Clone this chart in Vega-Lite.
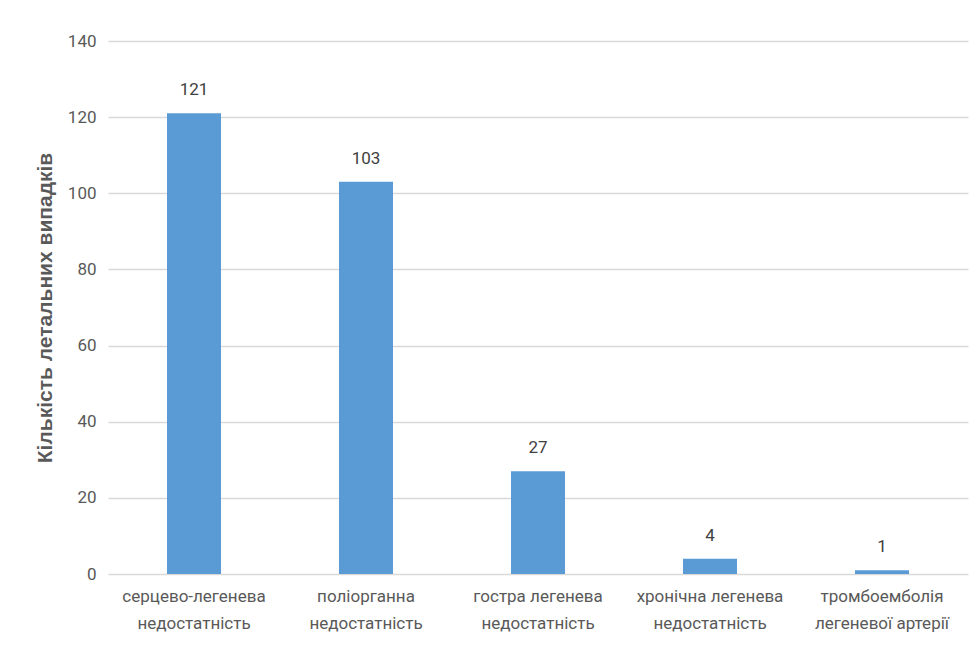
{
  "$schema": "https://vega.github.io/schema/vega-lite/v6.json",
  "width": 860,
  "height": 533,
  "autosize": {"type": "none"},
  "padding": {"left": 108, "top": 41, "right": 8, "bottom": 83},
  "background": "white",
  "config": {
    "view": {"stroke": null},
    "font": "Roboto"
  },
  "data": {
    "values": [
      {"cause": "серцево-легенева\nнедостатність", "count": 121},
      {"cause": "поліорганна\nнедостатність", "count": 103},
      {"cause": "гостра легенева\nнедостатність", "count": 27},
      {"cause": "хронічна легенева\nнедостатність", "count": 4},
      {"cause": "тромбоемболія\nлегеневої артерії", "count": 1}
    ]
  },
  "encoding": {
    "x": {
      "field": "cause",
      "type": "nominal",
      "sort": null,
      "scale": {"paddingInner": 0, "paddingOuter": 0},
      "axis": {
        "title": null,
        "labelAngle": 0,
        "labelExpr": "split(datum.value, '\\n')",
        "labelFontSize": 17,
        "labelColor": "#595959",
        "labelLineHeight": 27,
        "labelPadding": 14,
        "ticks": false,
        "domain": false,
        "labelFont": "Roboto"
      }
    },
    "y": {
      "field": "count",
      "type": "quantitative",
      "scale": {"domain": [0, 140]},
      "axis": {
        "values": [0, 20, 40, 60, 80, 100, 120, 140],
        "title": "Кількість летальних випадків",
        "titleFont": "Liberation Sans",
        "titleFontSize": 21,
        "titleFontWeight": "bold",
        "titleColor": "#595959",
        "titlePadding": 12,
        "labelFontSize": 17,
        "labelColor": "#595959",
        "labelPadding": 12,
        "labelFont": "Roboto",
        "ticks": false,
        "domain": false,
        "gridColor": "#d9d9d9",
        "gridWidth": 1.3
      }
    }
  },
  "layer": [
    {"mark": {"type": "bar", "color": "#5B9BD5", "size": 54}},
    {
      "mark": {"type": "text", "baseline": "bottom", "dy": -14, "fontSize": 17, "color": "#404040", "font": "Roboto"},
      "encoding": {"text": {"field": "count", "type": "quantitative"}}
    }
  ]
}
